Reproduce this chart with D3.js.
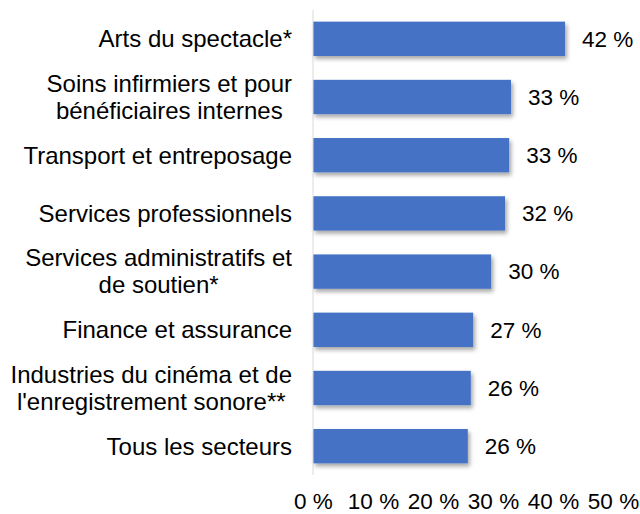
<!DOCTYPE html>
<html>
<head>
<meta charset="utf-8">
<script src="https://cdn.jsdelivr.net/npm/d3@7"></script>
<style>
  body { margin: 0; background: #fff; }
  text { font-family: Arial, "Liberation Sans", sans-serif; fill: #000; }
</style>
</head>
<body>
<div id="chart"></div>
<script>
// values
let categories = [
    ["Arts du spectacle*"],
    ["Soins infirmiers et pour", "bénéficiaires internes"],
    ["Transport et entreposage"],
    ["Services professionnels"],
    ["Services administratifs et", "de soutien*"],
    ["Finance et assurance"],
    ["Industries du cinéma et de", "l'enregistrement sonore**"],
    ["Tous les secteurs"]
];
let values = [42, 33, 32.7, 32, 29.7, 26.7, 26.3, 25.8];
let valueLabels = ["42 %", "33 %", "33 %", "32 %", "30 %", "27 %", "26 %", "26 %"];
let ticks = [0, 10, 20, 30, 40, 50];

let width = 640;
let height = 514;
let labelSize = 24;
let numSize = 22.5;

let svg = d3.select('#chart')
    .append('svg')
    .attr('width', width)
    .attr('height', height);

let defs = svg.append('defs');
defs.append('filter')
    .attr('id', 'shadow')
    .attr('x', '-5%').attr('y', '-20%')
    .attr('width', '115%').attr('height', '160%')
    .append('feDropShadow')
    .attr('dx', 2).attr('dy', 3)
    .attr('stdDeviation', 2)
    .attr('flood-color', '#000')
    .attr('flood-opacity', 0.35);

let x = d3.scaleLinear([0, 50], [313, 613]);
let y = d3.scaleBand(d3.range(categories.length), [10, 475]).paddingInner(0.41).paddingOuter(0.2);

// bars
svg.append('g')
    .selectAll('rect')
    .data(values)
    .join('rect')
    .attr('x', x(0))
    .attr('y', (d, i) => y(i))
    .attr('width', d => x(d) - x(0))
    .attr('height', y.bandwidth())
    .attr('fill', '#4472C4')
    .attr('filter', 'url(#shadow)');

// vertical axis line
svg.append('line')
    .attr('x1', x(0)).attr('x2', x(0))
    .attr('y1', 10).attr('y2', 475)
    .attr('stroke', '#d9d9d9')
    .attr('stroke-width', 1);

// value labels
svg.append('g')
    .attr('font-size', numSize)
    .selectAll('text')
    .data(values)
    .join('text')
    .attr('x', d => x(d) + 17)
    .attr('y', (d, i) => y(i) + y.bandwidth() / 2)
    .attr('dy', '0.35em')
    .text((d, i) => valueLabels[i]);

// category labels: block right aligned, lines centered inside
let lineH = 27;
let labels = svg.append('g').attr('font-size', labelSize);
categories.forEach((lines, i) => {
    let g = labels.append('g');
    let cy = y(i) + y.bandwidth() / 2;
    let ts = lines.map((l, j) => g.append('text')
        .attr('y', cy + (j - (lines.length - 1) / 2) * lineH)
        .attr('dy', '0.35em')
        .attr('text-anchor', 'middle')
        .text(l));
    let maxW = d3.max(ts, t => t.node().getComputedTextLength());
    ts.forEach(t => t.attr('x', 292 - maxW / 2));
});

// x axis tick labels
let axis = d3.axisBottom(x)
    .tickValues(ticks)
    .tickSize(0)
    .tickPadding(0)
    .tickFormat(d => d + ' %');

svg.append('g')
    .attr('transform', 'translate(0,493)')
    .call(axis)
    .call(g => g.select('.domain').remove())
    .call(g => g.selectAll('text')
        .attr('font-size', numSize)
        .attr('font-family', 'Arial, "Liberation Sans", sans-serif')
        .attr('fill', '#000'));
</script>
</body>
</html>
